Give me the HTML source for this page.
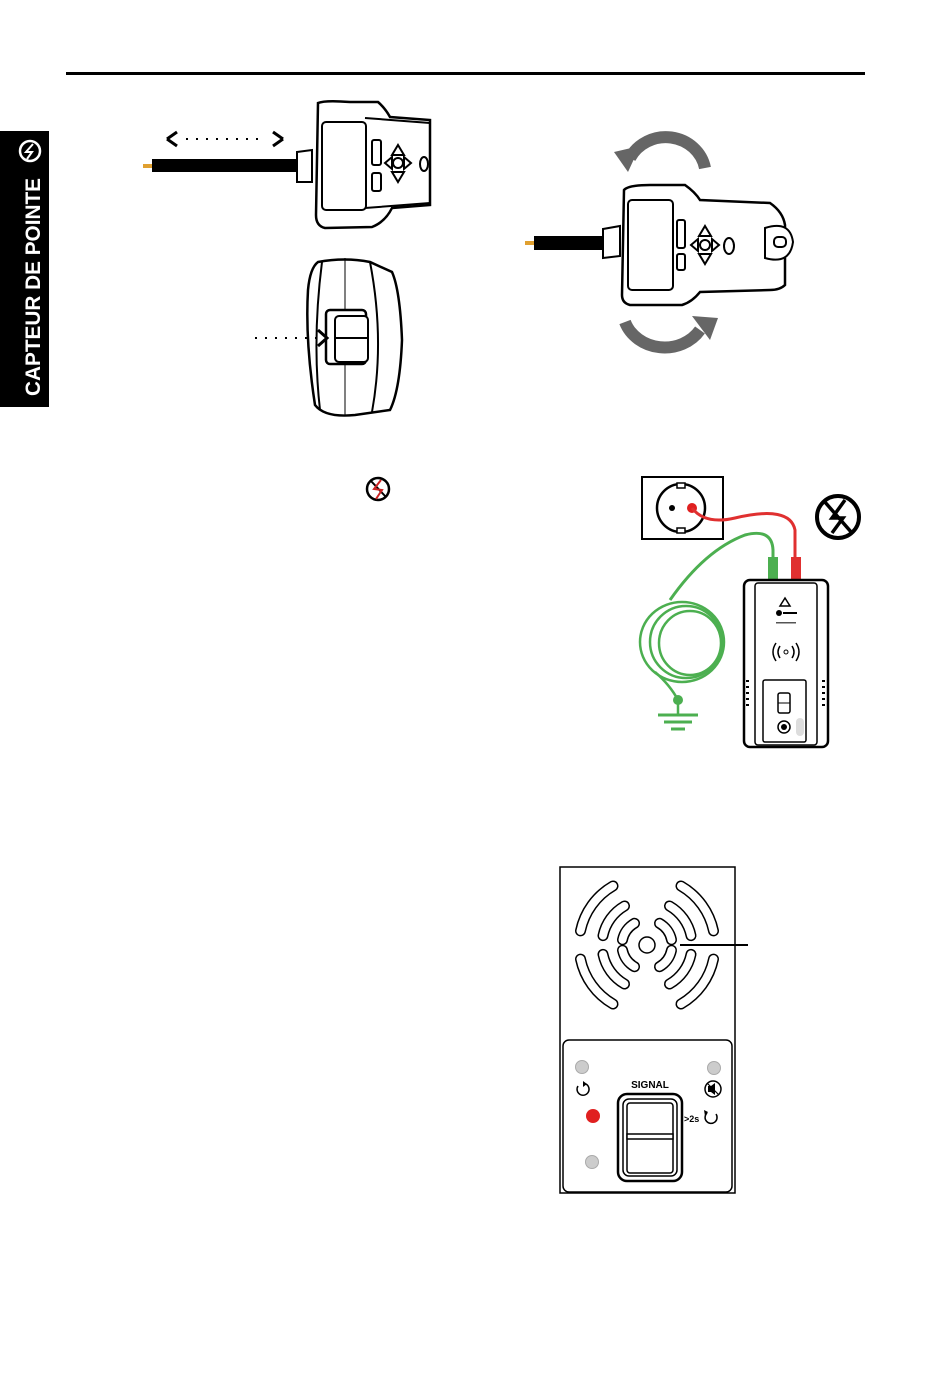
<!DOCTYPE html>
<html><head><meta charset="utf-8"><style>
html,body{margin:0;padding:0;background:#fff;}
svg{display:block;font-family:"Liberation Sans",sans-serif;}
</style></head><body>
<svg width="950" height="1376" viewBox="0 0 950 1376" xmlns="http://www.w3.org/2000/svg">
<defs>
<g id="q">
<path d="M622.5 939.8 A25 25 0 0 1 634.5 923.3" />
<path d="M603 935.6 A45 45 0 0 1 624.5 906" />
<path d="M580.5 930.9 A68 68 0 0 1 613 886" />
</g>
<g id="qa">
<use href="#q" stroke="#000" stroke-width="11" fill="none" stroke-linecap="round"/>
<use href="#q" stroke="#fff" stroke-width="8" fill="none" stroke-linecap="round"/>
</g>
</defs>
<rect x="66" y="72" width="799" height="3" fill="#000"/>
<rect x="0" y="131" width="49" height="276" fill="#000"/>
<text transform="translate(40,396) rotate(-90)" fill="#fff" font-size="21" font-weight="bold" textLength="218" lengthAdjust="spacingAndGlyphs">CAPTEUR DE POINTE</text>
<circle cx="30" cy="151" r="10" fill="none" stroke="#fff" stroke-width="2.5"/>
<path d="M33 144 L26 152 L32 152 L27 159" stroke="#fff" stroke-width="2" fill="none"/>

<path d="M167 139 L177 132 M167 139 L177 146" stroke="#000" stroke-width="3" fill="none"/>
<path d="M283 139 L273 132 M283 139 L273 146" stroke="#000" stroke-width="3" fill="none"/>
<line x1="186" y1="139" x2="266" y2="139" stroke="#000" stroke-width="2" stroke-dasharray="2,8"/>
<rect x="143" y="164" width="10" height="4" fill="#e0a030"/>
<rect x="152" y="159" width="147" height="13" fill="#000"/>
<path d="M297 152 L312 150 L312 182 L297 182 Z" fill="#fff" stroke="#000" stroke-width="2"/>
<path d="M318 103 Q325 100 350 102 L378 102 Q385 108 390 117 L430 120 L430 205 L392 208 Q385 222 372 227 L325 228 Q316 226 316 215 Z" fill="#fff" stroke="#000" stroke-width="2.5"/>
<path d="M365 118 L430 123 M365 208 L430 203" stroke="#000" stroke-width="2" fill="none"/>
<rect x="322" y="122" width="44" height="88" rx="4" fill="#fff" stroke="#000" stroke-width="2"/>
<rect x="372" y="140" width="9" height="25" rx="2" fill="none" stroke="#000" stroke-width="2"/>
<rect x="372" y="173" width="9" height="18" rx="2" fill="none" stroke="#000" stroke-width="2"/>
<circle cx="398" cy="163" r="5" fill="none" stroke="#000" stroke-width="2"/>
<path d="M398 145 L404 155 L392 155 Z M398 182 L404 172 L392 172 Z M385 163 L392 157 L392 169 Z M411 163 L404 157 L404 169 Z" fill="none" stroke="#000" stroke-width="2"/>
<ellipse cx="424" cy="164" rx="4" ry="7" fill="none" stroke="#000" stroke-width="2"/>

<path d="M318 262 Q345 257 370 262 L392 272 Q400 290 402 340 Q400 390 390 410 L355 415 Q325 418 315 405 Q305 340 308 290 Q310 268 318 262 Z" fill="#fff" stroke="#000" stroke-width="2.5"/>
<path d="M322 262 Q312 340 320 410" stroke="#000" stroke-width="2" fill="none"/>
<path d="M370 262 Q385 340 372 412" stroke="#000" stroke-width="2" fill="none"/>
<line x1="345" y1="258" x2="345" y2="416" stroke="#000" stroke-width="1"/>
<rect x="326" y="310" width="40" height="54" rx="4" fill="#fff" stroke="#000" stroke-width="2.5"/>
<rect x="335" y="316" width="33" height="46" rx="4" fill="#fff" stroke="#000" stroke-width="2"/>
<line x1="335" y1="338" x2="368" y2="338" stroke="#000" stroke-width="2"/>
<line x1="255" y1="338" x2="318" y2="338" stroke="#000" stroke-width="2" stroke-dasharray="2,8"/>
<path d="M318 330 L327 338 L318 346" stroke="#000" stroke-width="3" fill="none"/>

<path d="M705 168 A40 38 0 0 0 630 158" stroke="#666" stroke-width="12" fill="none"/>
<path d="M614 152 L640 146 L628 172 Z" fill="#666"/>
<path d="M625 322 A42 38 0 0 0 700 330" stroke="#666" stroke-width="12" fill="none"/>
<path d="M718 318 L692 316 L710 340 Z" fill="#666"/>
<rect x="525" y="241" width="10" height="4" fill="#e0a030"/>
<rect x="534" y="236" width="70" height="14" fill="#000"/>
<path d="M603 229 L620 226 L620 256 L603 258 Z" fill="#fff" stroke="#000" stroke-width="2"/>
<path d="M624 190 Q628 185 650 185 L685 185 Q695 192 700 200 L770 203 Q783 212 785 225 L785 285 Q780 290 770 290 L700 292 Q692 302 682 305 L630 305 Q622 303 622 295 Z" fill="#fff" stroke="#000" stroke-width="2.5"/>
<rect x="628" y="200" width="45" height="90" rx="4" fill="#fff" stroke="#000" stroke-width="2"/>
<rect x="677" y="220" width="8" height="28" rx="2" fill="none" stroke="#000" stroke-width="2"/>
<rect x="677" y="254" width="8" height="16" rx="2" fill="none" stroke="#000" stroke-width="2"/>
<circle cx="705" cy="245" r="5" fill="none" stroke="#000" stroke-width="2"/>
<path d="M705 226 L711 236 L699 236 Z M705 264 L711 254 L699 254 Z M691 245 L698 239 L698 251 Z M719 245 L712 239 L712 251 Z" fill="none" stroke="#000" stroke-width="2"/>
<ellipse cx="729" cy="246" rx="5" ry="8" fill="none" stroke="#000" stroke-width="2"/>
<path d="M765 228 Q790 220 793 242 Q790 265 765 258 Z" fill="#fff" stroke="#000" stroke-width="2"/>
<rect x="774" y="237" width="12" height="10" rx="4" fill="none" stroke="#000" stroke-width="2"/>

<circle cx="378" cy="489" r="11" fill="none" stroke="#000" stroke-width="2.5"/>
<line x1="371" y1="481" x2="386" y2="497" stroke="#000" stroke-width="2"/>
<path d="M381 480 L374 489 L382 490 L376 499" stroke="#c22" stroke-width="2" fill="none"/>

<rect x="642" y="477" width="81" height="62" fill="#fff" stroke="#000" stroke-width="2"/>
<circle cx="681" cy="508" r="24" fill="#fff" stroke="#000" stroke-width="2.5"/>
<rect x="677" y="483" width="8" height="5" fill="#fff" stroke="#000" stroke-width="1.5"/>
<rect x="677" y="528" width="8" height="5" fill="#fff" stroke="#000" stroke-width="1.5"/>
<circle cx="672" cy="508" r="3" fill="#000"/>
<circle cx="692" cy="508" r="5" fill="#e02020"/>
<path d="M692 508 Q705 525 735 518 Q790 505 795 530 L795 560" stroke="#e03030" stroke-width="3" fill="none"/>
<path d="M773 560 L773 550 Q772 528 745 535 Q705 550 670 600" stroke="#4caf50" stroke-width="3" fill="none"/>
<ellipse cx="682" cy="642" rx="42" ry="40" fill="none" stroke="#4caf50" stroke-width="2.5"/>
<ellipse cx="686" cy="642" rx="36" ry="36" fill="none" stroke="#4caf50" stroke-width="2.5"/>
<ellipse cx="690" cy="643" rx="31" ry="32" fill="none" stroke="#4caf50" stroke-width="2.5"/>
<path d="M655 672 Q670 685 678 700" stroke="#4caf50" stroke-width="2.5" fill="none"/>
<circle cx="678" cy="700" r="5" fill="#4caf50"/>
<line x1="678" y1="700" x2="678" y2="714" stroke="#4caf50" stroke-width="2.5"/>
<line x1="658" y1="715" x2="698" y2="715" stroke="#4caf50" stroke-width="3"/>
<line x1="664" y1="722" x2="692" y2="722" stroke="#4caf50" stroke-width="3"/>
<line x1="671" y1="729" x2="685" y2="729" stroke="#4caf50" stroke-width="3"/>
<rect x="768" y="557" width="10" height="24" fill="#4caf50"/>
<rect x="791" y="557" width="10" height="24" fill="#e03030"/>
<rect x="744" y="580" width="84" height="167" rx="6" fill="#fff" stroke="#000" stroke-width="2.5"/>
<rect x="755" y="583" width="62" height="162" rx="3" fill="none" stroke="#000" stroke-width="1.5"/>
<path d="M785 598 L790 606 L780 606 Z" fill="none" stroke="#000" stroke-width="1.5"/>
<circle cx="779" cy="613" r="3" fill="#000"/>
<rect x="783" y="612" width="14" height="2" fill="#000"/>
<rect x="776" y="622" width="20" height="1.5" fill="#555"/>
<circle cx="786" cy="652" r="2" fill="none" stroke="#000"/>
<path d="M780 646 Q776 652 780 658 M776 643 Q770 652 776 661 M792 646 Q796 652 792 658 M796 643 Q802 652 796 661" stroke="#000" stroke-width="1.5" fill="none"/>
<rect x="763" y="680" width="43" height="62" rx="2" fill="#fff" stroke="#000" stroke-width="1.5"/>
<rect x="778" y="693" width="12" height="20" rx="2" fill="none" stroke="#000" stroke-width="1.5"/>
<line x1="778" y1="703" x2="790" y2="703" stroke="#000"/>
<circle cx="784" cy="727" r="6" fill="none" stroke="#000" stroke-width="1.5"/>
<circle cx="784" cy="727" r="3" fill="#000"/>
<rect x="796" y="718" width="8" height="18" rx="4" fill="#ddd"/>
<g fill="#000"><rect x="746" y="680" width="3" height="2"/><rect x="746" y="686" width="3" height="2"/><rect x="746" y="692" width="3" height="2"/><rect x="746" y="698" width="3" height="2"/><rect x="746" y="704" width="3" height="2"/><rect x="822" y="680" width="3" height="2"/><rect x="822" y="686" width="3" height="2"/><rect x="822" y="692" width="3" height="2"/><rect x="822" y="698" width="3" height="2"/><rect x="822" y="704" width="3" height="2"/></g>

<circle cx="838" cy="517" r="21" fill="none" stroke="#000" stroke-width="4"/>
<line x1="824" y1="501" x2="852" y2="533" stroke="#000" stroke-width="3.5"/>
<path d="M845 500 L832 518 L843 518 L832 533" stroke="#000" stroke-width="3.5" fill="none"/>

<rect x="560" y="867" width="175" height="326" fill="#fff" stroke="#000" stroke-width="1.5"/>
<rect x="563" y="1040" width="169" height="152" rx="6" fill="#fff" stroke="#000" stroke-width="1.5"/>
<use href="#qa"/>
<use href="#qa" transform="translate(1294,0) scale(-1,1)"/>
<use href="#qa" transform="translate(0,1890) scale(1,-1)"/>
<use href="#qa" transform="translate(1294,1890) scale(-1,-1)"/>
<circle cx="647" cy="945" r="8" fill="#fff" stroke="#000" stroke-width="1.5"/>
<line x1="680" y1="945" x2="748" y2="945" stroke="#000" stroke-width="2"/>
<circle cx="582" cy="1067" r="6.5" fill="#ccc" stroke="#aaa"/>
<circle cx="714" cy="1068" r="6.5" fill="#ccc" stroke="#aaa"/>
<circle cx="593" cy="1116" r="7" fill="#e02020"/>
<circle cx="592" cy="1162" r="6.5" fill="#ccc" stroke="#aaa"/>
<path d="M586 1084 A6 6 0 1 1 578 1086" stroke="#000" stroke-width="1.5" fill="none"/>
<path d="M583 1081 L587 1084 L583 1087" fill="#000"/>
<path d="M716 1114 A6 6 0 1 1 707 1113" stroke="#000" stroke-width="1.5" fill="none"/>
<path d="M704 1110 L708 1112 L705 1116" fill="#000"/>
<text x="684" y="1122" font-size="9" font-weight="bold">&gt;2s</text>
<circle cx="713" cy="1089" r="8" fill="#fff" stroke="#000" stroke-width="1.5"/>
<path d="M708 1086 L711 1086 L715 1083 L715 1095 L711 1092 L708 1092 Z" fill="#000"/>
<line x1="707" y1="1083" x2="719" y2="1095" stroke="#000" stroke-width="1.2"/>
<text x="650" y="1088" font-size="10" font-weight="bold" text-anchor="middle">SIGNAL</text>
<rect x="618" y="1094" width="64" height="87" rx="9" fill="#fff" stroke="#000" stroke-width="2.5"/>
<rect x="623" y="1099" width="54" height="77" rx="6" fill="#fff" stroke="#000" stroke-width="1.5"/>
<rect x="627" y="1103" width="46" height="70" rx="3" fill="#fff" stroke="#000" stroke-width="1.5"/>
<rect x="627" y="1134" width="46" height="5" fill="#fff" stroke="#000" stroke-width="1.5"/>
</svg>
</body></html>
